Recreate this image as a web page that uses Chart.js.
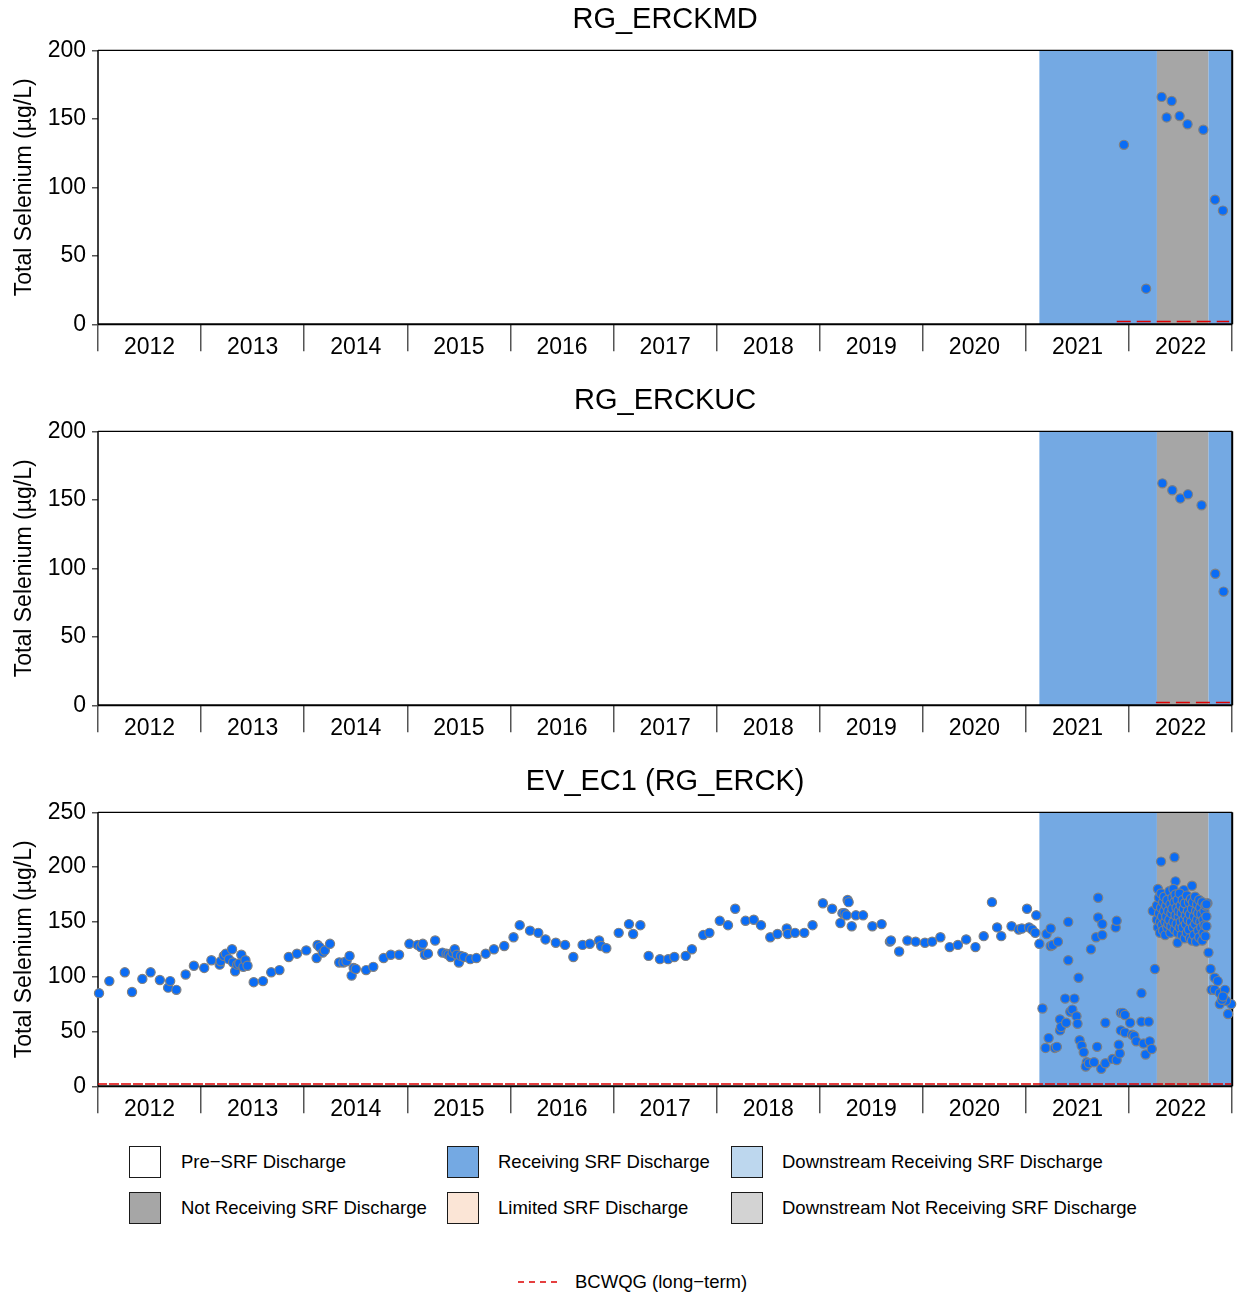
<!DOCTYPE html>
<html>
<head>
<meta charset="utf-8">
<script src="https://cdn.jsdelivr.net/npm/chart.js@4.4.1/dist/chart.umd.min.js"></script>
<style>
  body { margin: 0; background: #fff; }
  #page { position: relative; width: 1238px; height: 1295px; font-family: "Liberation Sans", Arial, sans-serif; overflow: hidden; }
  #page canvas { position: absolute; left: 0; }
  .key { position: absolute; box-sizing: border-box; width: 32px; height: 32px; border: 1.5px solid #1a1a1a; }
  .lab { position: absolute; font-size: 18.5px; line-height: 22px; color: #000; white-space: nowrap; }
</style>
</head>
<body>
<div id="page">
  <canvas id="c0" width="1238" height="381" style="top:0px"></canvas>
  <canvas id="c1" width="1238" height="381" style="top:381px"></canvas>
  <canvas id="c2" width="1238" height="381" style="top:762px"></canvas>

  <div class="key" style="left:129px;top:1146px;background:#ffffff"></div>
  <div class="lab" style="left:181px;top:1151px">Pre−SRF Discharge</div>
  <div class="key" style="left:447px;top:1146px;background:#74a9e3"></div>
  <div class="lab" style="left:498px;top:1151px">Receiving SRF Discharge</div>
  <div class="key" style="left:731px;top:1146px;background:#bdd7ee"></div>
  <div class="lab" style="left:782px;top:1151px">Downstream Receiving SRF Discharge</div>

  <div class="key" style="left:129px;top:1192px;background:#a6a6a6"></div>
  <div class="lab" style="left:181px;top:1197px">Not Receiving SRF Discharge</div>
  <div class="key" style="left:447px;top:1192px;background:#fbe5d6"></div>
  <div class="lab" style="left:498px;top:1197px">Limited SRF Discharge</div>
  <div class="key" style="left:731px;top:1192px;background:#d3d3d3"></div>
  <div class="lab" style="left:782px;top:1197px">Downstream Not Receiving SRF Discharge</div>

  <svg style="position:absolute;left:516px;top:1276px" width="46" height="12">
    <line x1="2" y1="6" x2="44" y2="6" stroke="#dd0000" stroke-width="1.5" stroke-dasharray="6,5"></line>
  </svg>
  <div class="lab" style="left:575px;top:1271px">BCWQG (long−term)</div>
</div>
<script>
"use strict";

// sites, one panel each
const sites = ["RG_ERCKMD", "RG_ERCKUC", "EV_EC1 (RG_ERCK)"];
const yMax = [200, 200, 250];

// BC water quality guideline (long-term), ug/L, and where it is drawn
const BCWQG = 2;
const guideStart = [2021.88, 2022.26, 2011.99];
const guideEnd = [2022.97, 2022.98, 2022.99];

// SRF discharge periods (decimal years)
const periodStart = [2021.13, 2022.27, 2022.77];
const periodEnd = [2022.27, 2022.77, 2023.0];
const periodStatus = ["Receiving", "Not Receiving", "Receiving"];

// RG_ERCKMD
const mdDates = [2021.95, 2022.165, 2022.316, 2022.364, 2022.413, 2022.49, 2022.567, 2022.72, 2022.833, 2022.91];
const mdSe = [131, 26, 166, 151, 163, 152, 146, 142, 91, 83];

// RG_ERCKUC
const ucDates = [2022.323, 2022.419, 2022.497, 2022.571, 2022.703, 2022.836, 2022.916];
const ucSe = [162, 157, 151, 154, 146, 96, 83];

// EV_EC1 (RG_ERCK)
const ec1Dates = [
  2012.01, 2012.11, 2012.26, 2012.33, 2012.43, 2012.51, 2012.60, 2012.68, 2012.70, 2012.76,
  2012.85, 2012.93, 2013.03, 2013.10, 2013.18, 2013.19, 2013.22, 2013.24, 2013.27, 2013.30,
  2013.31, 2013.33, 2013.35, 2013.37, 2013.39, 2013.41, 2013.43, 2013.45, 2013.51, 2013.60,
  2013.68, 2013.76, 2013.85, 2013.93, 2014.02, 2014.12, 2014.13, 2014.15, 2014.18, 2014.20,
  2014.25, 2014.34, 2014.38, 2014.41, 2014.44, 2014.46, 2014.48, 2014.50, 2014.60, 2014.67,
  2014.77, 2014.84, 2014.92, 2015.02, 2015.10, 2015.13, 2015.15, 2015.17, 2015.20, 2015.27,
  2015.34, 2015.38, 2015.40, 2015.42, 2015.44, 2015.46, 2015.48, 2015.50, 2015.52, 2015.55,
  2015.61, 2015.67, 2015.76, 2015.84, 2015.94, 2016.03, 2016.09, 2016.19, 2016.27, 2016.34,
  2016.44, 2016.53, 2016.61, 2016.70, 2016.77, 2016.86, 2016.88, 2016.93, 2017.05, 2017.15,
  2017.19, 2017.26, 2017.34, 2017.45, 2017.53, 2017.59, 2017.70, 2017.76, 2017.87, 2017.93,
  2018.03, 2018.11, 2018.18, 2018.28, 2018.36, 2018.43, 2018.52, 2018.59, 2018.68, 2018.69,
  2018.76, 2018.85, 2018.93, 2019.03, 2019.12, 2019.20, 2019.22, 2019.24, 2019.26, 2019.27,
  2019.28, 2019.31, 2019.35, 2019.42, 2019.51, 2019.60, 2019.68, 2019.69, 2019.77, 2019.85,
  2019.93, 2020.02, 2020.09, 2020.17, 2020.26, 2020.34, 2020.42, 2020.51, 2020.59, 2020.67,
  2020.72, 2020.76, 2020.86, 2020.93, 2020.96, 2021.01, 2021.03, 2021.06, 2021.09, 2021.10,
  2021.13, 2021.16, 2021.20, 2021.24, 2021.22, 2021.19, 2021.24, 2021.26, 2021.28, 2021.30,
  2021.31, 2021.33, 2021.33, 2021.34, 2021.38, 2021.39, 2021.41, 2021.41, 2021.43, 2021.45,
  2021.47, 2021.49, 2021.51, 2021.50, 2021.52, 2021.54, 2021.56, 2021.59, 2021.58, 2021.61,
  2021.63, 2021.66, 2021.68, 2021.70, 2021.70, 2021.74, 2021.74, 2021.69, 2021.73, 2021.77,
  2021.77, 2021.84, 2021.87, 2021.88, 2021.88, 2021.91, 2021.90, 2021.92, 2021.94, 2021.96,
  2021.92, 2021.96, 2022.01, 2022.03, 2022.05, 2022.07, 2022.12, 2022.12, 2022.14, 2022.16,
  2022.19, 2022.20, 2022.22, 2022.25, 2022.23, 2022.31, 2022.44, 2022.45, 2022.61, 2022.28,
  2022.47, 2022.53, 2022.76, 2022.77, 2022.79, 2022.83, 2022.86, 2022.80, 2022.83, 2022.88,
  2022.93, 2022.88, 2022.96, 2022.99, 2022.94, 2022.90, 2022.91
];
const ec1Se = [
  85, 96, 104, 86, 98, 104, 97, 90, 96, 88,
  102, 110, 108, 115, 111, 114, 119, 121, 116, 125,
  113, 105, 111, 112, 120, 109, 115, 110, 95, 96,
  104, 106, 118, 121, 124, 117, 129, 127, 122, 124,
  130, 113, 113, 114, 119, 101, 108, 107, 106, 109,
  117, 120, 120, 130, 129, 127, 130, 120, 121, 133,
  122, 121, 120, 118, 122, 125, 120, 113, 119, 118,
  116, 117, 121, 125, 128, 136, 147, 142, 140, 134,
  131, 129, 118, 129, 130, 133, 128, 126, 140, 148,
  139, 147, 119, 116, 116, 118, 119, 125, 138, 140,
  151, 147, 162, 151, 152, 147, 136, 139, 144, 139,
  140, 140, 147, 167, 162, 149, 158, 158, 156, 170,
  168, 146, 156, 156, 146, 148, 132, 133, 123, 133,
  132, 131, 132, 136, 127, 129, 134, 127, 137, 168,
  145, 137, 146, 143, 144, 162, 145, 143, 140, 156,
  130, 71, 139, 144, 44, 35, 128, 129, 35, 36,
  132, 51, 61, 54, 80, 58, 150, 115, 68, 70,
  80, 64, 99, 57, 42, 37, 31, 22, 18, 21,
  125, 22, 136, 172, 154, 148, 138, 36, 16, 21,
  58, 25, 145, 151, 24, 30, 38, 67, 67, 65,
  51, 49, 58, 47, 46, 41, 85, 59, 39, 29,
  59, 41, 34, 107, 160, 205, 209, 187, 183, 180,
  131, 179, 167, 122, 107, 99, 96, 88, 88, 85,
  88, 75, 66, 75, 78, 79, 82
];

// EV_EC1 dense 2022 sampling (Apr - Oct)
const ec1Dates2022 = [
  2022.27, 2022.27, 2022.28, 2022.29, 2022.29, 2022.30, 2022.30, 2022.31, 2022.31, 2022.32,
  2022.32, 2022.33, 2022.33, 2022.34, 2022.34, 2022.35, 2022.35, 2022.36, 2022.36, 2022.37,
  2022.37, 2022.38, 2022.38, 2022.39, 2022.39, 2022.40, 2022.40, 2022.41, 2022.41, 2022.42,
  2022.42, 2022.43, 2022.43, 2022.44, 2022.44, 2022.45, 2022.45, 2022.46, 2022.46, 2022.47,
  2022.47, 2022.48, 2022.48, 2022.49, 2022.49, 2022.50, 2022.50, 2022.51, 2022.51, 2022.52,
  2022.52, 2022.53, 2022.53, 2022.54, 2022.54, 2022.55, 2022.55, 2022.56, 2022.56, 2022.57,
  2022.57, 2022.58, 2022.58, 2022.59, 2022.59, 2022.60, 2022.60, 2022.61, 2022.61, 2022.62,
  2022.62, 2022.63, 2022.63, 2022.64, 2022.64, 2022.65, 2022.65, 2022.66, 2022.66, 2022.67,
  2022.67, 2022.68, 2022.68, 2022.69, 2022.69, 2022.70, 2022.70, 2022.71, 2022.71, 2022.72,
  2022.72, 2022.73, 2022.73, 2022.74, 2022.74, 2022.75, 2022.75, 2022.75
];
const ec1Se2022 = [
  152, 165, 145, 172, 158, 140, 150, 163, 176, 147,
  155, 168, 142, 160, 173, 150, 138, 165, 155, 145,
  170, 160, 148, 178, 152, 166, 140, 158, 146, 172,
  162, 150, 180, 143, 168, 156, 175, 148, 163, 140,
  170, 155, 160, 145, 176, 165, 150, 138, 158, 170,
  145, 162, 152, 135, 167, 156, 148, 174, 140, 160,
  152, 168, 143, 157, 135, 171, 150, 162, 133, 145,
  168, 155, 138, 173, 148, 160, 132, 152, 166, 142,
  158, 170, 136, 150, 163, 145, 157, 168, 133, 152,
  140, 160, 147, 165, 137, 155, 166, 146
];

const statusFill = {
  "Pre-SRF": "#ffffff",
  "Receiving": "#74a9e3",
  "Downstream Receiving": "#bdd7ee",
  "Not Receiving": "#a6a6a6",
  "Limited": "#fbe5d6",
  "Downstream Not Receiving": "#d3d3d3",
};

const FONT = "'Liberation Sans', Arial, sans-serif";

// discharge period shading + plot frame, under the points
const shadePlugin = {
  id: "shade",
  beforeDatasetsDraw(chart) {
    const { ctx, chartArea: a, scales: { x } } = chart;
    ctx.save();
    periodStart.forEach((s, i) => {
      const x0 = x.getPixelForValue(s);
      const x1 = x.getPixelForValue(periodEnd[i]);
      ctx.fillStyle = statusFill[periodStatus[i]];
      ctx.fillRect(x0, a.top, x1 - x0, a.bottom - a.top);
    });
    ctx.strokeStyle = "#000";
    ctx.lineWidth = 1.2;
    ctx.beginPath();
    ctx.moveTo(a.left, a.top);
    ctx.lineTo(a.right, a.top);
    ctx.stroke();
    ctx.lineWidth = 1.5;
    ctx.beginPath();
    ctx.moveTo(a.left, a.top);
    ctx.lineTo(a.left, a.bottom);
    ctx.stroke();
    ctx.lineWidth = 2;
    ctx.beginPath();
    ctx.moveTo(a.right, a.top);
    ctx.lineTo(a.right, a.bottom);
    ctx.moveTo(a.left, a.bottom);
    ctx.lineTo(a.right, a.bottom);
    ctx.stroke();
    ctx.restore();
  },
};

function toPoints(dates, values) {
  return dates.map((d, i) => ({ x: d, y: values[i] }));
}

function makePanel(idx, points) {
  const guide = [
    { x: guideStart[idx], y: BCWQG },
    { x: guideEnd[idx], y: BCWQG },
  ];
  return new Chart(document.getElementById("c" + idx), {
    type: "scatter",
    data: {
      datasets: [
        {
          label: "Total Selenium",
          data: points,
          pointRadius: 4.6,
          pointBackgroundColor: "#0a6cf5",
          pointBorderColor: "#808080",
          pointBorderWidth: 1.2,
          clip: false,
          order: 1,
        },
        {
          type: "line",
          label: "BCWQG (long-term)",
          data: guide,
          borderColor: "#dd0000",
          borderWidth: 1.5,
          borderDash: idx === 2 ? [10, 2] : [14, 6],
          pointRadius: 0,
          fill: false,
          order: 2,
        },
      ],
    },
    options: {
      responsive: false,
      animation: false,
      events: [],
      layout: { padding: { left: 0, right: 3, top: 0, bottom: 0 } },
      plugins: {
        legend: { display: false },
        tooltip: { enabled: false },
        title: {
          display: true,
          text: sites[idx],
          fullSize: false,
          color: "#000",
          font: { family: FONT, size: 29, weight: "normal" },
          padding: { top: 3, bottom: 12.5 },
        },
      },
      scales: {
        x: {
          type: "linear",
          min: 2012,
          max: 2023,
          afterFit(scale) {
            scale.height = 56.7;
          },
          border: { display: false },
          grid: {
            drawOnChartArea: false,
            drawTicks: true,
            tickLength: 27,
            lineWidth: 1.5,
            color: (c) => (c.tick && Number.isInteger(c.tick.value) ? "#555" : "rgba(0,0,0,0)"),
          },
          ticks: {
            stepSize: 0.5,
            maxTicksLimit: 40,
            autoSkip: false,
            maxRotation: 0,
            padding: -17,
            color: "#000",
            font: { family: FONT, size: 23 },
            callback: (v) => (Math.abs((v % 1) - 0.5) < 1e-6 ? String(Math.floor(v)) : ""),
          },
        },
        y: {
          min: 0,
          max: yMax[idx],
          afterFit(scale) {
            scale.width = 98;
          },
          border: { display: false },
          grid: {
            drawOnChartArea: false,
            drawTicks: true,
            tickLength: 6,
            lineWidth: 1.5,
            color: "#555",
          },
          ticks: {
            stepSize: 50,
            padding: 6,
            color: "#000",
            font: { family: FONT, size: 23 },
          },
          title: {
            display: true,
            text: "Total Selenium (µg/L)",
            color: "#000",
            font: { family: FONT, size: 23 },
            padding: { top: 11, bottom: 0 },
          },
        },
      },
    },
    plugins: [shadePlugin],
  });
}

makePanel(0, toPoints(mdDates, mdSe));
makePanel(1, toPoints(ucDates, ucSe));
makePanel(2, toPoints(ec1Dates, ec1Se).concat(toPoints(ec1Dates2022, ec1Se2022)));
</script>
</body>
</html>
